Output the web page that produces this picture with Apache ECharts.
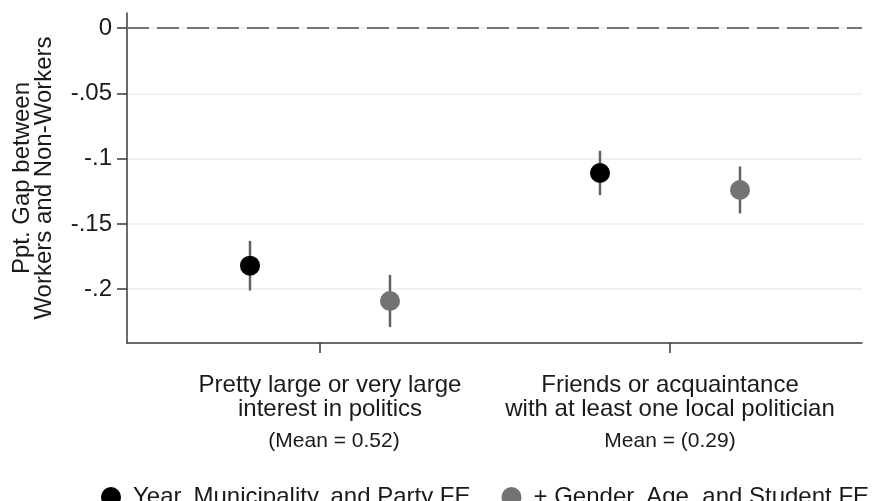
<!DOCTYPE html>
<html>
<head>
<meta charset="utf-8">
<script src="https://cdn.jsdelivr.net/npm/echarts@6/dist/echarts.min.js"></script>
<style>
  html, body { margin: 0; padding: 0; background: #fff; }
  #chart { width: 879px; height: 501px; }
</style>
</head>
<body>
<div id="chart"></div>
<script>
// Outcome categories (x positions 1 and 2) and their axis labels
const categoryPos = [1, 2];
const categoryTitles = [
  ['Pretty large or very large', 'interest in politics'],
  ['Friends or acquaintance', 'with at least one local politician']
];
const categoryMeans = ['(Mean = 0.52)', 'Mean = (0.29)'];

// Specification 1: Year, Municipality, and Party FE
const baseEst = [-0.182, -0.111];
const baseLo  = [-0.201, -0.128];
const baseHi  = [-0.163, -0.094];

// Specification 2: + Gender, Age, and Student FE
const fullEst = [-0.209, -0.124];
const fullLo  = [-0.229, -0.142];
const fullHi  = [-0.189, -0.106];

// Y-axis tick values
const yTicks = [0, -0.05, -0.1, -0.15, -0.2];
const yTickLabels = ['0', '-.05', '-.1', '-.15', '-.2'];

const seriesNames = ['Year, Municipality, and Party FE', '+ Gender, Age, and Student FE'];
const shift = 0.2;
const FONT = '"Liberation Sans", Arial, sans-serif';

const basePts = categoryPos.map((c, i) => [c - shift, baseEst[i]]);
const fullPts = categoryPos.map((c, i) => [c + shift, fullEst[i]]);
const baseBars = categoryPos.map((c, i) => [c - shift, baseLo[i], baseHi[i]]);
const fullBars = categoryPos.map((c, i) => [c + shift, fullLo[i], fullHi[i]]);

function ciRender(params, api) {
  const p1 = api.coord([api.value(0), api.value(1)]);
  const p2 = api.coord([api.value(0), api.value(2)]);
  return {
    type: 'line',
    shape: { x1: p1[0], y1: p1[1], x2: p2[0], y2: p2[1] },
    style: { stroke: '#636363', lineWidth: 2.5 }
  };
}

const chart = echarts.init(document.getElementById('chart'), null, { renderer: 'canvas' });
chart.setOption({
  animation: false,
  backgroundColor: '#ffffff',
  grid: { left: 127, right: 17, top: 13, bottom: 158, containLabel: false, outerBoundsMode: 'none' },
  xAxis: {
    type: 'value',
    min: 0.4486,
    max: 2.5486,
    axisLine: { show: true, onZero: false, lineStyle: { color: '#3a3a3a', width: 1.5 } },
    axisTick: { show: true, customValues: categoryPos, length: 10, lineStyle: { color: '#3a3a3a', width: 1.5 } },
    splitLine: { show: false },
    axisLabel: {
      customValues: categoryPos,
      margin: 30,
      fontFamily: FONT,
      color: '#1a1a1a',
      formatter: function (v) {
        const i = categoryPos.indexOf(Math.round(v));
        if (i < 0) return '';
        const s = i === 0 ? 'a' : 'b';
        return '{' + s + '|' + categoryTitles[i][0] + '}\n{' + s + '|' + categoryTitles[i][1] + '}\n{' + s + 'm|' + categoryMeans[i] + '}';
      },
      rich: {
        a:  { fontSize: 24, lineHeight: 24, fontFamily: FONT, color: '#1a1a1a', padding: [0, 0, 0, 20] },
        am: { fontSize: 21, lineHeight: 40, fontFamily: FONT, color: '#1a1a1a', padding: [0, 0, 0, 28] },
        b:  { fontSize: 24, lineHeight: 24, fontFamily: FONT, color: '#1a1a1a' },
        bm: { fontSize: 21, lineHeight: 40, fontFamily: FONT, color: '#1a1a1a' }
      }
    }
  },
  yAxis: {
    type: 'value',
    min: -0.2412,
    max: 0.0115,
    name: 'Ppt. Gap between\nWorkers and Non-Workers',
    nameLocation: 'middle',
    nameRotate: 90,
    nameGap: 72,
    nameTextStyle: { fontFamily: FONT, fontSize: 24, lineHeight: 22, color: '#1a1a1a' },
    axisLine: { show: true, onZero: false, lineStyle: { color: '#3a3a3a', width: 1.5 } },
    axisTick: { show: true, customValues: yTicks, length: 10, lineStyle: { color: '#3a3a3a', width: 1.5 } },
    axisLabel: {
      customValues: yTicks,
      margin: 15,
      fontFamily: FONT,
      fontSize: 24,
      color: '#1a1a1a',
      formatter: function (v) {
        const i = yTicks.findIndex(t => Math.abs(t - v) < 1e-6);
        return i < 0 ? '' : yTickLabels[i];
      }
    },
    splitLine: { show: true, lineStyle: { color: '#e8eef2', width: 1.5 } }
  },
  legend: {
    data: seriesNames,
    left: 96,
    top: 480,
    itemWidth: 34,
    itemHeight: 20,
    itemGap: 31,
    icon: 'circle',
    textStyle: { fontFamily: FONT, fontSize: 24, color: '#1a1a1a' }
  },
  series: [
    {
      type: 'line',
      data: [],
      silent: true,
      markLine: {
        silent: true,
        symbol: 'none',
        label: { show: false },
        lineStyle: { color: '#777777', width: 2, type: [22, 8] },
        data: [{ yAxis: 0 }]
      }
    },
    { type: 'custom', renderItem: ciRender, data: baseBars, z: 3, silent: true },
    { type: 'custom', renderItem: ciRender, data: fullBars, z: 3, silent: true },
    {
      name: seriesNames[0],
      type: 'scatter',
      data: basePts,
      symbol: 'circle',
      symbolSize: 20,
      itemStyle: { color: '#000000', opacity: 1 },
      z: 5
    },
    {
      name: seriesNames[1],
      type: 'scatter',
      data: fullPts,
      symbol: 'circle',
      symbolSize: 20,
      itemStyle: { color: '#737373', opacity: 1 },
      z: 5
    }
  ]
});
</script>
</body>
</html>
